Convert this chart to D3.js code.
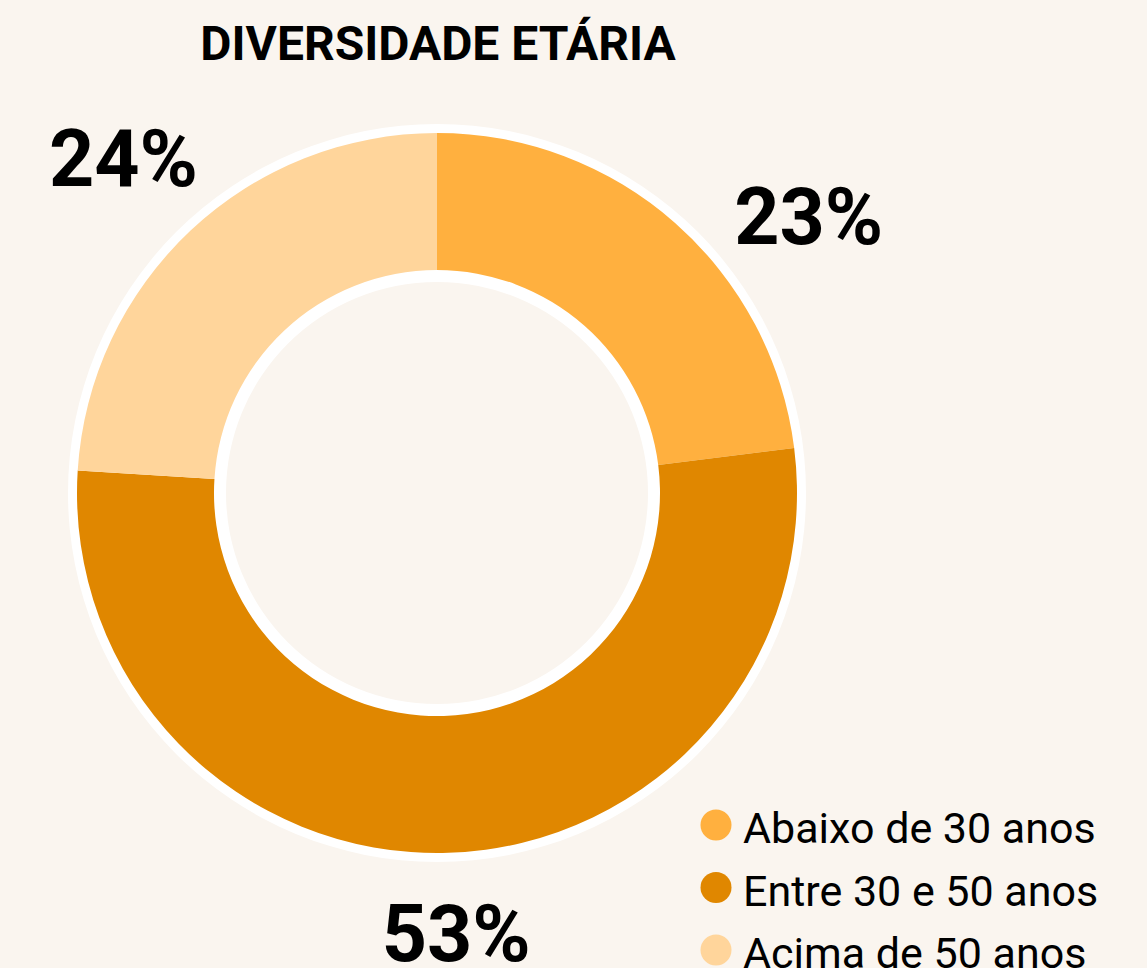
<!DOCTYPE html>
<html>
<head>
<meta charset="utf-8">
<title>Diversidade etária</title>
<script src="https://cdn.jsdelivr.net/npm/d3@7"></script>
<style>
  html, body { margin: 0; padding: 0; background: #FAF5EF; }
  svg { display: block; font-family: Roboto, "Noto Sans", sans-serif; }
</style>
</head>
<body>
<svg id="chart" width="1147" height="968"></svg>
<script>
// dados
var categories = ["Abaixo de 30 anos", "Entre 30 e 50 anos", "Acima de 50 anos"]
var values = [23, 53, 24]
var colors = ["#FFB03F", "#E08700", "#FFD59B"]
var labelNudge = [12, -0.7, 0] // graus, desvio do rótulo
var labelRadius = [463, 441, 458]

var width = 1147, height = 968
var cx = 437, cy = 493
var rOuter = 360, rInner = 223

var svg = d3.select("#chart")

svg.append("text")
    .attr("x", cx + 1)
    .attr("y", 60)
    .attr("text-anchor", "middle")
    .attr("font-size", 48)
    .attr("font-weight", 700)
    .attr("fill", "#000")
    .text("DIVERSIDADE ETÁRIA")

var g = svg.append("g").attr("transform", "translate(" + cx + "," + cy + ")")

// anel branco (borda)
g.append("path")
    .attr("fill", "#fff")
    .attr("d", d3.arc().innerRadius(rInner - 12).outerRadius(rOuter + 9)
        .startAngle(0).endAngle(2 * Math.PI)())

var pie = d3.pie().sort(null).value(function (d) { return d })
var arcs = pie(values)
var arc = d3.arc().innerRadius(rInner).outerRadius(rOuter)

g.selectAll(".slice")
    .data(arcs)
    .enter()
    .append("path")
    .attr("class", "slice")
    .attr("fill", function (d, i) { return colors[i] })
    .attr("d", arc)

// rótulos de porcentagem
var total = d3.sum(values)
function labelAngle(d, i) {
    return (d.startAngle + d.endAngle) / 2 + labelNudge[i] * Math.PI / 180
}
g.selectAll(".pct")
    .data(arcs)
    .enter()
    .append("text")
    .attr("class", "pct")
    .attr("text-anchor", "middle")
    .attr("dominant-baseline", "central")
    .attr("font-size", 79)
    .attr("font-weight", 700)
    .attr("fill", "#000")
    .attr("x", function (d, i) { return Math.sin(labelAngle(d, i)) * labelRadius[i] })
    .attr("y", function (d, i) { return -Math.cos(labelAngle(d, i)) * labelRadius[i] })
    .text(function (d) { return Math.round(d.value / total * 100) + "%" })

// legenda
var legend = svg.append("g").attr("transform", "translate(716,825)")
var items = legend.selectAll("g")
    .data(categories)
    .enter()
    .append("g")
    .attr("transform", function (d, i) { return "translate(0," + (i * 62.5) + ")" })

items.append("circle")
    .attr("r", 15.5)
    .attr("fill", function (d, i) { return colors[i] })

items.append("text")
    .attr("x", 27)
    .attr("y", 18)
    .attr("font-size", 43)
    .attr("fill", "#000")
    .text(function (d) { return d })
</script>
</body>
</html>
